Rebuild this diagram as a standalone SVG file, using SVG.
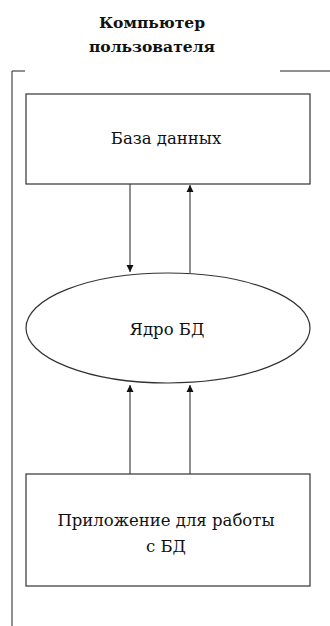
<svg xmlns="http://www.w3.org/2000/svg" width="330" height="626" viewBox="0 0 330 626">
<style>
.ln{stroke:#222;stroke-width:1;fill:none}
.bx{stroke:#333;stroke-width:1.2;fill:#fff}
.t{font-family:"DejaVu Serif","Liberation Serif",serif;font-size:16.5px;fill:#111;text-anchor:middle}
.h{font-family:"DejaVu Serif","Liberation Serif",serif;font-size:15.5px;font-weight:bold;fill:#111;text-anchor:middle}
</style>
<defs>
<marker id="ah" viewBox="0 0 10 10" refX="10" refY="5" markerWidth="7" markerHeight="9" markerUnits="userSpaceOnUse" orient="auto">
<path d="M0,0 L10,5 L0,10 z" fill="#111"/>
</marker>
</defs>
<g id="frame">
<text class="h" x="152" y="28">Компьютер</text>
<text class="h" x="152" y="52">пользователя</text>
<path class="ln" d="M25,71 H12 V626"/>
<path class="ln" d="M280,71 H330"/>
</g>
<g id="connectors">
<line class="ln" x1="130" y1="184" x2="130" y2="272" marker-end="url(#ah)"/>
<line class="ln" x1="190" y1="273" x2="190" y2="185" marker-end="url(#ah)"/>
<line class="ln" x1="130" y1="474" x2="130" y2="385" marker-end="url(#ah)"/>
<line class="ln" x1="190" y1="474" x2="190" y2="385" marker-end="url(#ah)"/>
</g>
<g id="db">
<rect class="bx" x="26" y="94" width="284" height="90"/>
<text class="t" x="166" y="144">База данных</text>
</g>
<g id="core">
<ellipse class="bx" cx="168" cy="328" rx="142" ry="55"/>
<text class="t" x="167" y="335">Ядро БД</text>
</g>
<g id="app">
<rect class="bx" x="26" y="474" width="284" height="112"/>
<text class="t" x="166" y="526">Приложение для работы</text>
<text class="t" x="166" y="552">с БД</text>
</g>
</svg>
